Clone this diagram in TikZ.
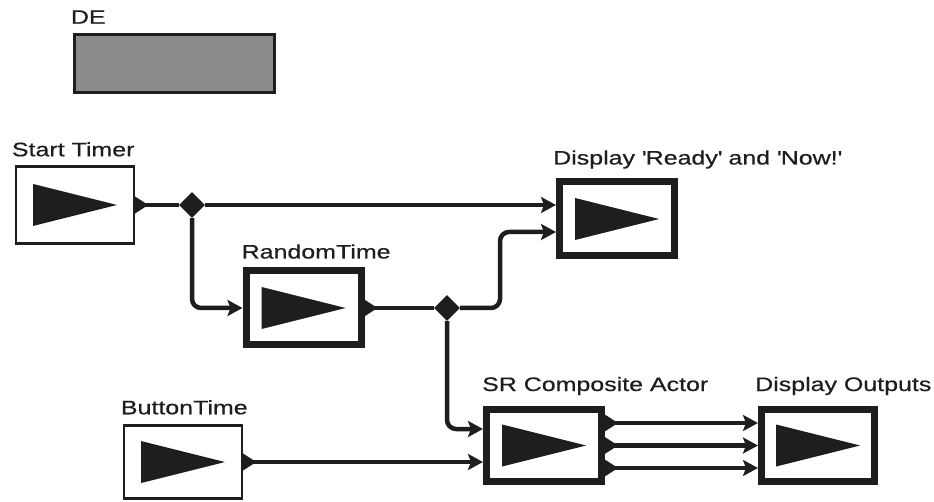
\documentclass[tikz,border=0pt]{standalone}
\usepackage{fontspec}
\setmainfont{Liberation Sans}[FakeStretch=1.28, FakeBold=0.6]
\usepackage{tikz}
\usetikzlibrary{arrows.meta, shapes.geometric, calc}
\definecolor{ink}{HTML}{1E1E1E}
\definecolor{degray}{HTML}{8A8A8A}

\begin{document}
\begin{tikzpicture}[
  x=1pt, y=-1pt,
  actor/.style={
    rectangle, draw=ink, line width=2.5pt, fill=white, inner sep=0pt,
    minimum width=118pt, minimum height=77pt,
    path picture={
      \fill[ink] ([shift={(-42pt,21pt)}]path picture bounding box.center)
        -- ([shift={(42pt,0pt)}]path picture bounding box.center)
        -- ([shift={(-42pt,-21pt)}]path picture bounding box.center) -- cycle;
    }
  },
  composite/.style={actor, line width=7pt, minimum width=115pt, minimum height=74pt},
  relation/.style={diamond, fill=ink, inner sep=0pt, minimum size=26pt},
  link/.style={line width=4.5pt, draw=ink},
  arr/.style={link, -{Stealth[length=15pt, width=16pt, inset=3pt]}},
  tag/.style={anchor=base west, inner sep=0pt, text=ink,
    font=\fontsize{19.5}{22}\selectfont},
  pics/outport/.style={code={\fill[ink] (-1,-9) -- (13,0) -- (-1,9) -- cycle;}},
]
\useasboundingbox (0,0) rectangle (934,502);

% Director
\node[draw=ink, line width=3.5pt, fill=degray, inner sep=0pt,
      minimum width=200pt, minimum height=58pt] (de) at (174.5,63.5) {};
\node[tag] (de-l) at ([xshift=-2pt,yshift=9pt]de.north west) {DE};

% Actors
\node[actor] (start) at (75,205) {};
\node[tag] (start-l) at ([xshift=-3pt,yshift=9pt]start.north west) {Start Timer};

\node[composite] (rand) at (303.5,308) {};
\node[tag] (rand-l) at ([xshift=-1pt,yshift=9pt]rand.north west) {RandomTime};

\node[composite] (disp) at (617,219) {};
\node[tag] (disp-l) at ([xshift=-3pt,yshift=14pt]disp.north west)
  {Display \textquotesingle Ready\textquotesingle\ and \textquotesingle Now!\textquotesingle};

\node[actor, minimum height=73pt] (button) at (183,462) {};
\node[tag] (button-l) at ([xshift=-2pt,yshift=10pt]button.north west) {ButtonTime};

\node[composite, minimum height=72pt] (sr) at (544,445.5) {};
\node[tag] (sr-l) at ([xshift=-1pt,yshift=15pt]sr.north west) {SR Composite Actor};

\node[composite, minimum width=113pt, minimum height=72pt] (dout) at (818,445.5) {};
\node[tag] (dout-l) at ([xshift=-3pt,yshift=15pt]dout.north west) {Display Outputs};

% Relations
\node[relation] (d1) at (192,205) {};
\node[relation] (d2) at (447,308) {};

% Ports
\coordinate (disp-i1) at ([yshift=14pt]disp.west);
\coordinate (disp-i2) at ([yshift=-13pt]disp.west);
\coordinate (sr-i1) at ([yshift=16.5pt]sr.west);
\coordinate (sr-i2) at ([yshift=-16.5pt]sr.west);

% Connections
\draw[link] (start.east) -- (d1);
\draw[arr] (d1) -- (disp-i1);
\draw[arr, rounded corners=9pt] (d1) |- (rand.west);
\draw[link] (rand.east) -- (d2);
\draw[arr, rounded corners=9pt] (d2) -- ($(d2)+(53,0)$) |- (disp-i2);
\draw[arr, rounded corners=9pt] (d2) |- (sr-i1);
\draw[arr] (button.east) -- (sr-i2);
\foreach \s in {22.5,0,-22.5}
  \draw[arr] ([yshift=\s pt]sr.east) -- ([yshift=\s pt]dout.west);

% Output ports
\pic at (start.east) {outport};
\pic at (rand.east) {outport};
\pic at (button.east) {outport};
\foreach \s in {22.5,0,-22.5}
  \pic at ([yshift=\s pt]sr.east) {outport};

\end{tikzpicture}
\end{document}
